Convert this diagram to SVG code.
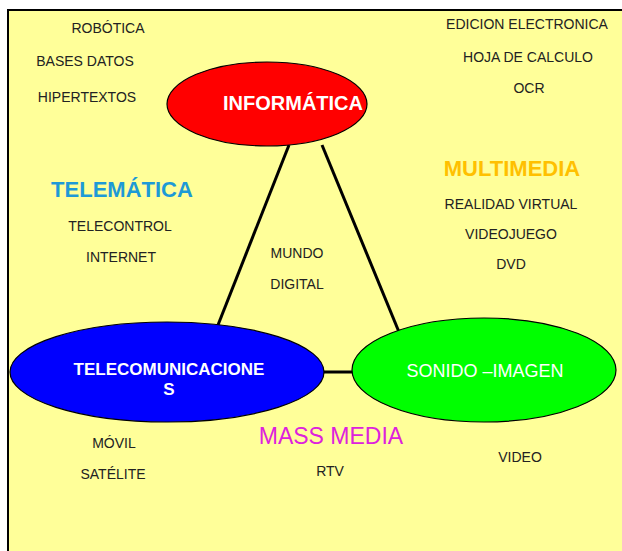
<svg xmlns="http://www.w3.org/2000/svg" width="622" height="551" viewBox="0 0 622 551">
<style>
.lbl{font-family:"Liberation Sans",Arial,sans-serif;font-size:14px;fill:#222;text-anchor:middle}
.node{stroke:#000;stroke-width:1.2}
.nt{font-family:"Liberation Sans",Arial,sans-serif;fill:#fff;text-anchor:middle}
.head{font-family:"Liberation Sans",Arial,sans-serif;font-weight:bold;font-size:22px;text-anchor:middle}
.con{stroke:#000;stroke-width:3;fill:none}
</style>
<rect x="0" y="0" width="622" height="551" fill="#fff"/>
<rect x="8" y="10" width="614" height="541" fill="#FFFF99"/>
<line x1="7" y1="10" x2="622" y2="10" stroke="#000" stroke-width="2"/>
<line x1="8" y1="9" x2="8" y2="551" stroke="#000" stroke-width="2"/>
<g id="connectors">
<line class="con" x1="289" y1="145" x2="218" y2="325"/>
<line class="con" x1="322" y1="145" x2="399" y2="332"/>
<line class="con" x1="318" y1="372" x2="358" y2="372"/>
</g>
<g id="informatica">
<ellipse class="node" cx="267" cy="104" rx="100" ry="42" fill="#FF0000"/>
<text class="nt" x="293" y="110" font-size="20" font-weight="bold">INFORMÁTICA</text>
</g>
<g id="telecomunicaciones">
<ellipse class="node" cx="167" cy="372" rx="157" ry="50" fill="#0000FF"/>
<text class="nt" x="169" y="375" font-size="17" font-weight="bold">TELECOMUNICACIONE</text>
<text class="nt" x="169" y="395" font-size="17" font-weight="bold">S</text>
</g>
<g id="sonido">
<ellipse class="node" cx="484" cy="370" rx="132" ry="52" fill="#00FF00"/>
<text class="nt" x="485" y="377" font-size="18">SONIDO –IMAGEN</text>
</g>
<g id="labels">
<text class="lbl" x="108" y="33">ROBÓTICA</text>
<text class="lbl" x="85" y="66">BASES DATOS</text>
<text class="lbl" x="87" y="102">HIPERTEXTOS</text>
<text class="lbl" x="527" y="29">EDICION ELECTRONICA</text>
<text class="lbl" x="528" y="62">HOJA DE CALCULO</text>
<text class="lbl" x="529" y="93">OCR</text>
<text class="head" x="122" y="197" fill="#1E9AD6">TELEMÁTICA</text>
<text class="lbl" x="120" y="231">TELECONTROL</text>
<text class="lbl" x="121" y="262">INTERNET</text>
<text class="lbl" x="297" y="258">MUNDO</text>
<text class="lbl" x="297" y="289">DIGITAL</text>
<text class="head" x="512" y="176" fill="#FFC000">MULTIMEDIA</text>
<text class="lbl" x="511" y="209">REALIDAD VIRTUAL</text>
<text class="lbl" x="511" y="239">VIDEOJUEGO</text>
<text class="lbl" x="511" y="269">DVD</text>
<text x="331" y="444" font-family="Liberation Sans,Arial,sans-serif" font-size="23" fill="#DD22DD" text-anchor="middle">MASS MEDIA</text>
<text class="lbl" x="114" y="448">MÓVIL</text>
<text class="lbl" x="113" y="479">SATÉLITE</text>
<text class="lbl" x="330" y="476">RTV</text>
<text class="lbl" x="520" y="462">VIDEO</text>
</g>
</svg>
